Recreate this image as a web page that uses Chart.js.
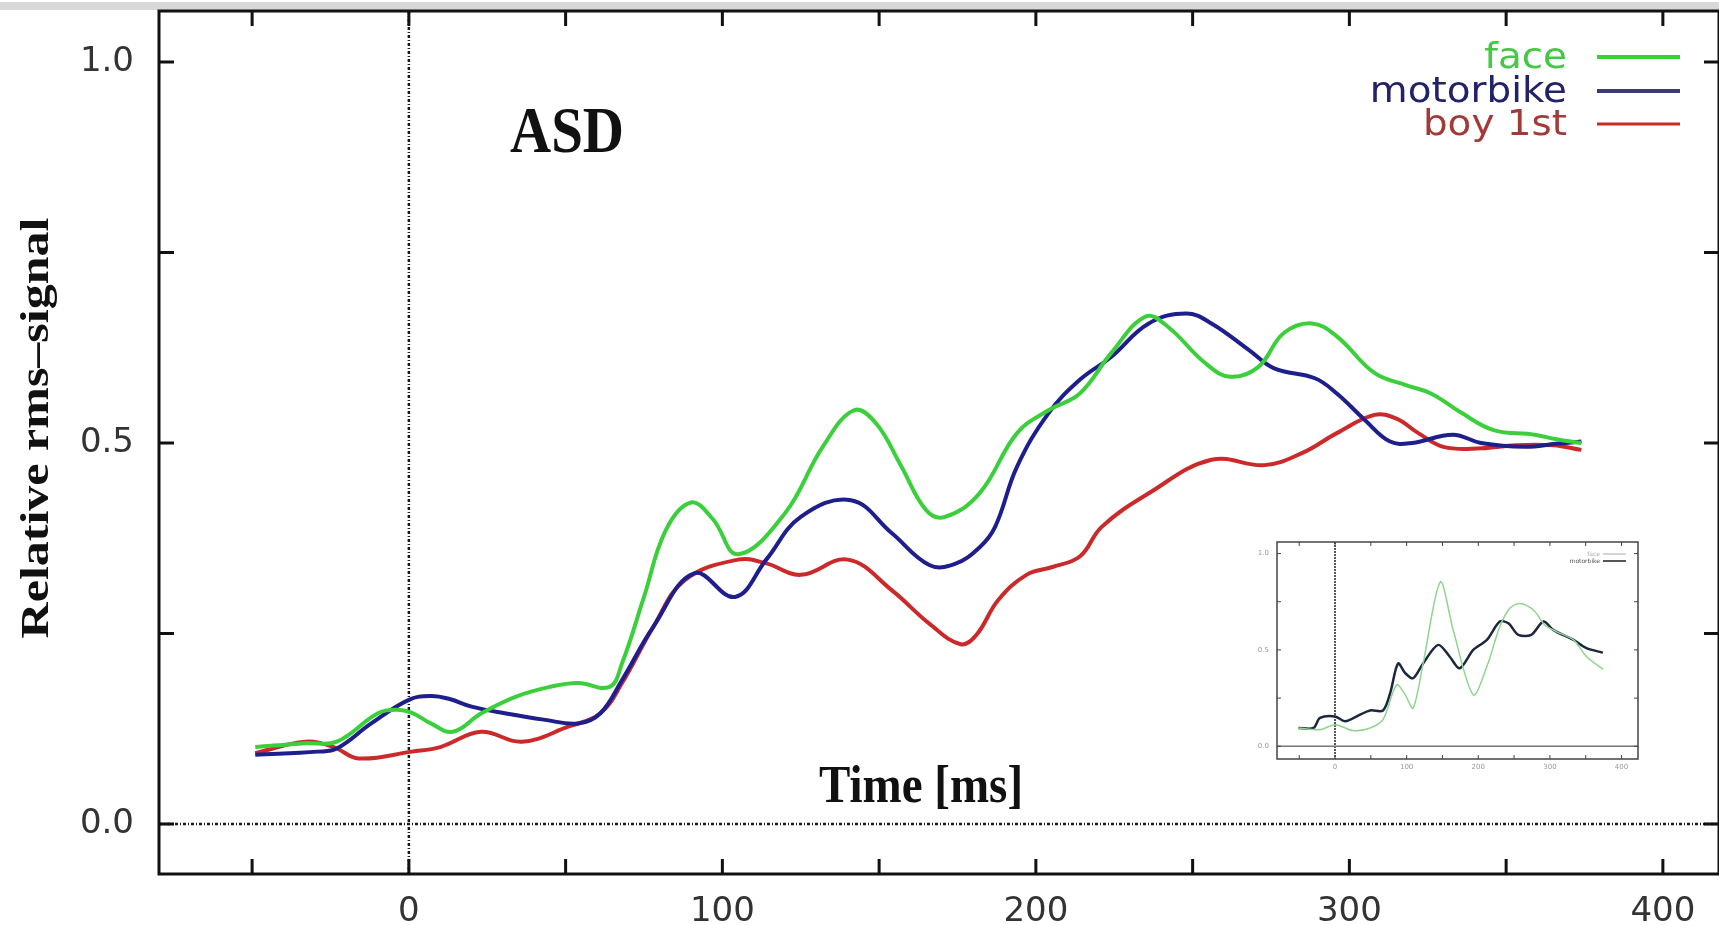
<!DOCTYPE html>
<html>
<head>
<meta charset="utf-8">
<script src="https://cdn.jsdelivr.net/npm/chart.js@4"></script>
<style>
  html, body { margin: 0; padding: 0; background: #fff; }
  #main { position: absolute; left: 0; top: 0; }
  #inset { position: absolute; left: 1230px; top: 530px; }
</style>
</head>
<body>
<canvas id="main" width="1719" height="925"></canvas>
<canvas id="inset" width="420" height="250"></canvas>
<script>
// main panel: time in ms, relative rms signal
const faceT = [-49, -33, -23, -10, -4, 1, 7, 14, 23, 34, 45, 54, 64, 68, 75, 82, 90, 97, 105, 120, 132, 142, 149, 157, 165, 171, 182, 194, 204, 214, 224, 235, 242, 254, 262, 271, 279, 288, 296, 308, 318, 326, 336, 346, 359, 366, 374];
const faceV = [0.101, 0.106, 0.108, 0.145, 0.150, 0.146, 0.132, 0.121, 0.145, 0.167, 0.180, 0.185, 0.180, 0.211, 0.298, 0.386, 0.422, 0.400, 0.354, 0.408, 0.495, 0.543, 0.526, 0.470, 0.412, 0.403, 0.434, 0.513, 0.543, 0.565, 0.618, 0.666, 0.653, 0.605, 0.587, 0.600, 0.644, 0.657, 0.640, 0.592, 0.576, 0.565, 0.539, 0.517, 0.511, 0.505, 0.500];

const motoT = [-49, -29, -23, -12, 0, 7, 13, 20, 31, 43, 54, 61, 68, 78, 91, 104, 114, 125, 141, 154, 166, 174, 182, 187, 194, 204, 214, 224, 236, 248, 256, 268, 276, 289, 296, 305, 313, 320, 333, 342, 356, 366, 374];
const motoV = [0.091, 0.095, 0.099, 0.132, 0.163, 0.168, 0.164, 0.154, 0.145, 0.137, 0.132, 0.145, 0.189, 0.259, 0.329, 0.298, 0.347, 0.403, 0.425, 0.382, 0.340, 0.341, 0.363, 0.390, 0.469, 0.539, 0.583, 0.613, 0.657, 0.670, 0.657, 0.622, 0.598, 0.585, 0.565, 0.530, 0.502, 0.500, 0.511, 0.500, 0.495, 0.499, 0.502];

const boyT = [-49, -33, -24, -16, 1, 10, 23, 36, 51, 61, 68, 78, 88, 105, 114, 125, 140, 154, 166, 176, 181, 188, 197, 205, 214, 221, 236, 256, 273, 285, 296, 308, 315, 322, 330, 342, 353, 365, 374];
const boyV = [0.093, 0.108, 0.101, 0.086, 0.095, 0.101, 0.121, 0.108, 0.128, 0.145, 0.185, 0.259, 0.320, 0.347, 0.342, 0.327, 0.347, 0.307, 0.263, 0.236, 0.248, 0.294, 0.327, 0.337, 0.351, 0.390, 0.434, 0.478, 0.471, 0.487, 0.513, 0.537, 0.532, 0.513, 0.495, 0.493, 0.497, 0.497, 0.491];

const xTicks = [-50, 0, 50, 100, 150, 200, 250, 300, 350, 400];
const xLabels = [0, 100, 200, 300, 400];
const yTicks = [0, 0.25, 0.5, 0.75, 1.0];
const yLabels = [0, 0.5, 1.0];

const seriesNames = ["face", "motorbike", "boy 1st"];
const seriesColors = ["#3ccf3c", "#1e1e8c", "#cc2a2a"];
const legendTextColors = ["#45c845", "#22226a", "#a33a3a"];

// inset panel
const insetDarkT = [-51, -30, -21, 0, 14, 35, 49, 67, 77, 88, 98, 109, 123, 144, 160, 174, 193, 212, 230, 242, 256, 274, 291, 305, 333, 351, 374];
const insetDarkV = [0.095, 0.095, 0.147, 0.155, 0.13, 0.164, 0.186, 0.186, 0.276, 0.43, 0.38, 0.353, 0.43, 0.526, 0.466, 0.405, 0.5, 0.552, 0.647, 0.638, 0.578, 0.578, 0.647, 0.603, 0.552, 0.509, 0.486];
const insetGreenT = [-51, -21, 0, 26, 49, 67, 86, 98, 109, 123, 147, 165, 193, 212, 230, 244, 258, 277, 293, 309, 333, 351, 374];
const insetGreenV = [0.095, 0.086, 0.112, 0.081, 0.095, 0.138, 0.319, 0.267, 0.198, 0.43, 0.853, 0.603, 0.267, 0.414, 0.62, 0.716, 0.741, 0.707, 0.629, 0.595, 0.552, 0.466, 0.4];
const insetNames = ["face", "motorbike"];

const pts = (t, v) => t.map((x, i) => ({ x: x, y: v[i] }));

function stretchText(ctx, text, x, y, font, color, align, sx, sy, rot) {
  ctx.save();
  ctx.translate(x, y);
  if (rot) ctx.rotate(rot);
  ctx.scale(sx, sy);
  ctx.font = font;
  ctx.fillStyle = color;
  ctx.textAlign = align;
  ctx.textBaseline = "alphabetic";
  ctx.fillText(text, 0, 0);
  ctx.restore();
}

// frame, inward ticks, zero lines and labels, gnuplot style
function framePlugin(opts) {
  return {
    id: "frame_" + opts.name,
    beforeDatasetsDraw(chart) {
      const { ctx, chartArea: a, scales: { x, y } } = chart;
      ctx.save();
      ctx.strokeStyle = opts.zeroColor;
      ctx.lineWidth = opts.zeroWidth;
      ctx.setLineDash(opts.dash);
      const x0 = x.getPixelForValue(0);
      ctx.beginPath();
      ctx.moveTo(x0, a.top);
      ctx.lineTo(x0, a.bottom);
      ctx.stroke();
      if (opts.hDash) {
        ctx.setLineDash(opts.hDash);
      } else {
        ctx.setLineDash([]);
        ctx.strokeStyle = opts.hColor;
      }
      const y0 = y.getPixelForValue(0);
      ctx.beginPath();
      ctx.moveTo(a.left, y0);
      ctx.lineTo(a.right, y0);
      ctx.stroke();
      ctx.restore();
    },
    afterDraw(chart) {
      const { ctx, chartArea: a, scales: { x, y } } = chart;
      ctx.save();
      ctx.strokeStyle = opts.frameColor;
      ctx.lineWidth = opts.frameWidth;
      ctx.strokeRect(a.left, a.top, a.right - a.left, a.bottom - a.top);
      ctx.lineWidth = opts.tickWidth;
      ctx.beginPath();
      xTicks.forEach(v => {
        const px = x.getPixelForValue(v);
        ctx.moveTo(px, a.bottom);
        ctx.lineTo(px, a.bottom - opts.tickLen);
        ctx.moveTo(px, a.top);
        ctx.lineTo(px, a.top + opts.tickLen);
      });
      yTicks.forEach(v => {
        const py = y.getPixelForValue(v);
        ctx.moveTo(a.left, py);
        ctx.lineTo(a.left + opts.tickLen, py);
        ctx.moveTo(a.right, py);
        ctx.lineTo(a.right - opts.tickLen, py);
      });
      ctx.stroke();
      ctx.restore();
      if (opts.extra) opts.extra(chart);
    }
  };
}

function axisOpts(min, max, ticks, labels, fmt, font, color, pad, fit) {
  return {
    type: "linear",
    min: min,
    max: max,
    grid: { display: false, drawTicks: false },
    border: { display: false },
    afterBuildTicks: s => { s.ticks = ticks.map(v => ({ value: v })); },
    afterFit: s => {
      fit(s);
      // no extra room for half labels at the ends, the frame sits where it sits
      s.paddingTop = 0; s.paddingBottom = 0;
      s.paddingLeft = 0; s.paddingRight = 0;
    },
    ticks: {
      autoSkip: false,
      maxRotation: 0,
      padding: pad,
      color: color,
      font: font,
      callback: v => labels.some(l => Math.abs(l - v) < 1e-9) ? fmt(v) : ""
    }
  };
}

new Chart(document.getElementById("main"), {
  type: "line",
  data: {
    datasets: [
      { label: seriesNames[0], data: pts(faceT, faceV), borderColor: seriesColors[0] },
      { label: seriesNames[1], data: pts(motoT, motoV), borderColor: seriesColors[1] },
      { label: seriesNames[2], data: pts(boyT, boyV), borderColor: seriesColors[2] }
    ].map(d => Object.assign(d, { borderWidth: 4, pointRadius: 0, tension: 0.4, fill: false }))
  },
  options: {
    responsive: false,
    animation: false,
    devicePixelRatio: 1,
    layout: { padding: { top: 11, right: 0, left: 0, bottom: 0 } },
    plugins: { legend: { display: false }, tooltip: { enabled: false } },
    scales: {
      x: axisOpts(-79.7, 417.9, xTicks, xLabels, v => String(v),
        { family: "DejaVu Sans", size: 34 }, "#333", 18, s => { s.height = 51; }),
      y: axisOpts(-0.0656, 1.067, yTicks, yLabels, v => v.toFixed(1),
        { family: "DejaVu Sans", size: 34 }, "#333", 25, s => { s.width = 159; })
    }
  },
  plugins: [
    {
      id: "topBand",
      beforeDraw(chart) {
        const ctx = chart.ctx;
        ctx.save();
        ctx.fillStyle = "#d8d8d8";
        ctx.fillRect(0, 2, chart.width, 8);
        ctx.restore();
      }
    },
    framePlugin({
      name: "main", frameColor: "#111", frameWidth: 3, tickWidth: 3, tickLen: 15,
      zeroColor: "#1a1a1a", zeroWidth: 2.5, dash: [3, 2, 1, 2], hDash: [3, 2, 1, 2],
      extra(chart) {
        const ctx = chart.ctx;
        stretchText(ctx, "ASD", 510, 152, "bold 57px 'Liberation Serif'", "#111", "left", 1, 1.16);
        stretchText(ctx, "Time [ms]", 921, 802, "bold 47px 'Liberation Serif'", "#111", "center", 1, 1.12);
        stretchText(ctx, "Relative rms–signal", 48, 428, "bold 40px 'Liberation Serif'", "#111", "center", 1.25, 1, -Math.PI / 2);
        const base = [68, 102, 135];
        seriesNames.forEach((n, i) => {
          stretchText(ctx, n, 1567, base[i], "36px 'DejaVu Sans'", legendTextColors[i], "right", 1.08, 1);
          ctx.save();
          ctx.strokeStyle = i === 1 ? "#3a3a78" : seriesColors[i];
          ctx.lineWidth = i === 2 ? 3 : 4;
          ctx.beginPath();
          ctx.moveTo(1597, base[i] - 11);
          ctx.lineTo(1680, base[i] - 11);
          ctx.stroke();
          ctx.restore();
        });
      }
    })
  ]
});

new Chart(document.getElementById("inset"), {
  type: "line",
  data: {
    datasets: [
      { label: insetNames[0], data: pts(insetGreenT, insetGreenV), borderColor: "#8fd48f", borderWidth: 1.5 },
      { label: insetNames[1], data: pts(insetDarkT, insetDarkV), borderColor: "#1c2840", borderWidth: 2.5 }
    ].map(d => Object.assign(d, { pointRadius: 0, tension: 0.3, fill: false }))
  },
  options: {
    responsive: false,
    animation: false,
    devicePixelRatio: 1,
    layout: { padding: { top: 12, right: 12, left: 0, bottom: 0 } },
    plugins: { legend: { display: false }, tooltip: { enabled: false } },
    scales: {
      x: axisOpts(-81, 423, xTicks, xLabels, v => String(v),
        { family: "DejaVu Sans", size: 7 }, "#999", 4, s => { s.height = 21; }),
      y: axisOpts(-0.066, 1.06, yTicks, yLabels, v => v.toFixed(1),
        { family: "DejaVu Sans", size: 7 }, "#999", 8, s => { s.width = 47; })
    }
  },
  plugins: [
    {
      id: "insetBg",
      beforeDraw(chart) {
        chart.ctx.save();
        chart.ctx.fillStyle = "#fff";
        chart.ctx.fillRect(0, 0, chart.width, chart.height);
        chart.ctx.restore();
      }
    },
    framePlugin({
      name: "inset", frameColor: "#444", frameWidth: 1.5, tickWidth: 1, tickLen: 4,
      zeroColor: "#222", zeroWidth: 1.5, dash: [2, 1], hDash: null, hColor: "#777",
      extra(chart) {
        const ctx = chart.ctx;
        const cols = ["#aaa", "#555"];
        insetNames.forEach((n, i) => {
          const yy = 26 + i * 7;
          stretchText(ctx, n, 370, yy, "6px 'DejaVu Sans'", cols[i], "right", 1, 1);
          ctx.save();
          ctx.strokeStyle = cols[i];
          ctx.lineWidth = i ? 2 : 1;
          ctx.beginPath();
          ctx.moveTo(373, yy - 2);
          ctx.lineTo(396, yy - 2);
          ctx.stroke();
          ctx.restore();
        });
      }
    })
  ]
});
</script>
</body>
</html>
